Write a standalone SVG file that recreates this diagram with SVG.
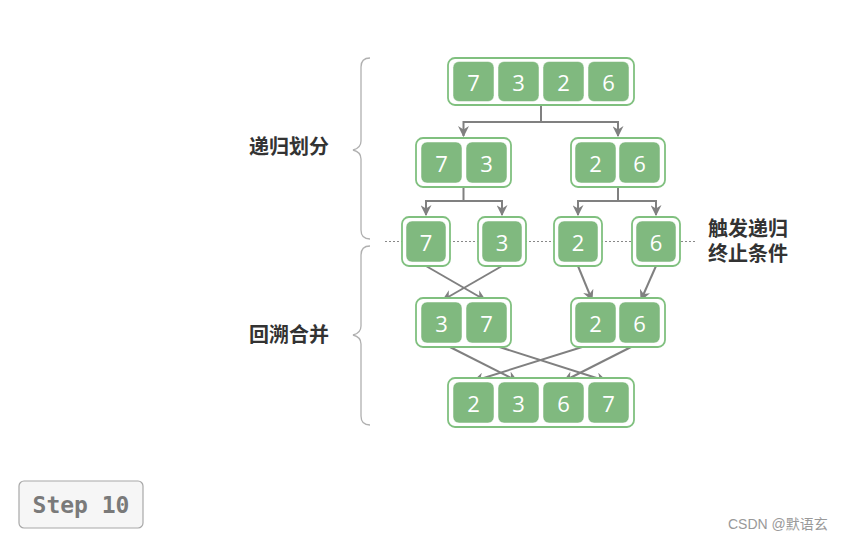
<svg xmlns="http://www.w3.org/2000/svg" width="843" height="541" viewBox="0 0 843 541">
<style>
.outer{fill:#ffffff;stroke:#80c07f;stroke-width:1.8}
.cell{fill:#80b97f;stroke:#ffffff;stroke-width:0.5}
.num{font-family:"Open Sans","Noto Sans",sans-serif;font-size:22px;fill:#ffffff;text-anchor:middle;dominant-baseline:central}
.lbl{font-family:"Noto Sans CJK SC","Noto Sans",sans-serif;font-size:20px;font-weight:bold;fill:#333333}
.conn{fill:none;stroke:#808080;stroke-width:2}
.brace{fill:none;stroke:#b0b0b0;stroke-width:1.3}
</style>
<defs>
<marker id="ah" viewBox="0 0 10 10" markerWidth="11" markerHeight="11" refX="9" refY="5" orient="auto" markerUnits="userSpaceOnUse">
<path d="M0,0 L10,5 L0,10 L3,5 Z" fill="#808080"/>
</marker>
</defs>
<rect width="843" height="541" fill="#ffffff"/>

<g id="braces">
<path class="brace" d="M370 58 Q361 58 361 67 L361 141 Q361 148 353 150 Q361 152 361 159 L361 230 Q361 239 370 239"/>
<path class="brace" d="M370 246 Q361 246 361 255 L361 326 Q361 333 353 335 Q361 337 361 344 L361 416 Q361 425 370 425"/>
</g>

<line x1="385" y1="241.5" x2="697" y2="241.5" stroke="#888888" stroke-width="1.2" stroke-dasharray="2 2"/>

<g id="connectors">
<path class="conn" d="M541 106 V122 H463.5 V136" marker-end="url(#ah)"/>
<path class="conn" d="M541 122 H618 V136" marker-end="url(#ah)"/>
<path class="conn" d="M463.5 187 V201 H426 V215" marker-end="url(#ah)"/>
<path class="conn" d="M463.5 201 H502 V215" marker-end="url(#ah)"/>
<path class="conn" d="M618 187 V201 H578 V215" marker-end="url(#ah)"/>
<path class="conn" d="M618 201 H656 V215" marker-end="url(#ah)"/>
<path class="conn" d="M426 266 L485 300" marker-end="url(#ah)"/>
<path class="conn" d="M502 266 L443 300" marker-end="url(#ah)"/>
<path class="conn" d="M578 266 L592 300" marker-end="url(#ah)"/>
<path class="conn" d="M656 266 L641 300" marker-end="url(#ah)"/>
<path class="conn" d="M442 343 L517 381" marker-end="url(#ah)"/>
<path class="conn" d="M487 343 L606 381" marker-end="url(#ah)"/>
<path class="conn" d="M595 343 L474 381" marker-end="url(#ah)"/>
<path class="conn" d="M639 343 L564 381" marker-end="url(#ah)"/>
</g>

<g id="n-7326">
<rect class="outer" x="448" y="58" width="186" height="47" rx="7"/>
<rect class="cell" x="453" y="61.5" width="41" height="40" rx="6"/>
<rect class="cell" x="498" y="61.5" width="41" height="40" rx="6"/>
<rect class="cell" x="543" y="61.5" width="41" height="40" rx="6"/>
<rect class="cell" x="588" y="61.5" width="41" height="40" rx="6"/>
<text class="num" x="473.5" y="82">7</text>
<text class="num" x="518.5" y="82">3</text>
<text class="num" x="563.5" y="82">2</text>
<text class="num" x="608.5" y="82">6</text>
</g>

<g id="n-73">
<rect class="outer" x="416" y="138" width="95" height="49" rx="7"/>
<rect class="cell" x="421" y="142" width="41" height="41" rx="6"/>
<rect class="cell" x="466" y="142" width="41" height="41" rx="6"/>
<text class="num" x="441.5" y="162.5">7</text>
<text class="num" x="486.5" y="162.5">3</text>
</g>

<g id="n-26">
<rect class="outer" x="571" y="138" width="94" height="49" rx="7"/>
<rect class="cell" x="575" y="142" width="41" height="41" rx="6"/>
<rect class="cell" x="619" y="142" width="41" height="41" rx="6"/>
<text class="num" x="595.5" y="162.5">2</text>
<text class="num" x="639.5" y="162.5">6</text>
</g>

<g id="n-7">
<rect class="outer" x="402" y="217" width="48" height="49" rx="7"/>
<rect class="cell" x="406" y="221" width="40" height="41" rx="6"/>
<text class="num" x="426" y="241.5">7</text>
</g>
<g id="n-3">
<rect class="outer" x="478" y="217" width="48" height="49" rx="7"/>
<rect class="cell" x="482" y="221" width="40" height="41" rx="6"/>
<text class="num" x="502" y="241.5">3</text>
</g>
<g id="n-2">
<rect class="outer" x="554" y="217" width="48" height="49" rx="7"/>
<rect class="cell" x="558" y="221" width="40" height="41" rx="6"/>
<text class="num" x="578" y="241.5">2</text>
</g>
<g id="n-6">
<rect class="outer" x="632" y="217" width="48" height="49" rx="7"/>
<rect class="cell" x="636" y="221" width="40" height="41" rx="6"/>
<text class="num" x="656" y="241.5">6</text>
</g>

<g id="n-37">
<rect class="outer" x="416" y="298" width="95" height="49" rx="7"/>
<rect class="cell" x="421" y="302" width="41" height="41" rx="6"/>
<rect class="cell" x="466" y="302" width="41" height="41" rx="6"/>
<text class="num" x="441.5" y="322.5">3</text>
<text class="num" x="486.5" y="322.5">7</text>
</g>

<g id="n-26b">
<rect class="outer" x="571" y="298" width="94" height="49" rx="7"/>
<rect class="cell" x="575" y="302" width="41" height="41" rx="6"/>
<rect class="cell" x="619" y="302" width="41" height="41" rx="6"/>
<text class="num" x="595.5" y="322.5">2</text>
<text class="num" x="639.5" y="322.5">6</text>
</g>

<g id="n-2367">
<rect class="outer" x="448" y="378" width="186" height="49" rx="7"/>
<rect class="cell" x="453" y="382" width="41" height="41" rx="6"/>
<rect class="cell" x="498" y="382" width="41" height="41" rx="6"/>
<rect class="cell" x="543" y="382" width="41" height="41" rx="6"/>
<rect class="cell" x="588" y="382" width="41" height="41" rx="6"/>
<text class="num" x="473.5" y="402.5">2</text>
<text class="num" x="518.5" y="402.5">3</text>
<text class="num" x="563.5" y="402.5">6</text>
<text class="num" x="608.5" y="402.5">7</text>
</g>

<g id="labels">
<text class="lbl" x="249" y="154">递归划分</text>
<text class="lbl" x="249" y="342">回溯合并</text>
<text class="lbl"><tspan x="708" y="236">触发递归</tspan><tspan x="708" y="261">终止条件</tspan></text>
</g>

<g id="step">
<rect x="19" y="481" width="124" height="47" rx="5" fill="#f6f6f6" stroke="#a8a8a8" stroke-width="1.2"/>
<text x="81" y="504.5" font-family="'DejaVu Sans Mono','Liberation Mono',monospace" font-weight="bold" font-size="23" fill="#7a7a7a" text-anchor="middle" dominant-baseline="central">Step 10</text>
</g>

<text x="728" y="529" font-family="'Liberation Sans','Noto Sans CJK SC',sans-serif" font-size="14" fill="#999999">CSDN @默语玄</text>
</svg>
